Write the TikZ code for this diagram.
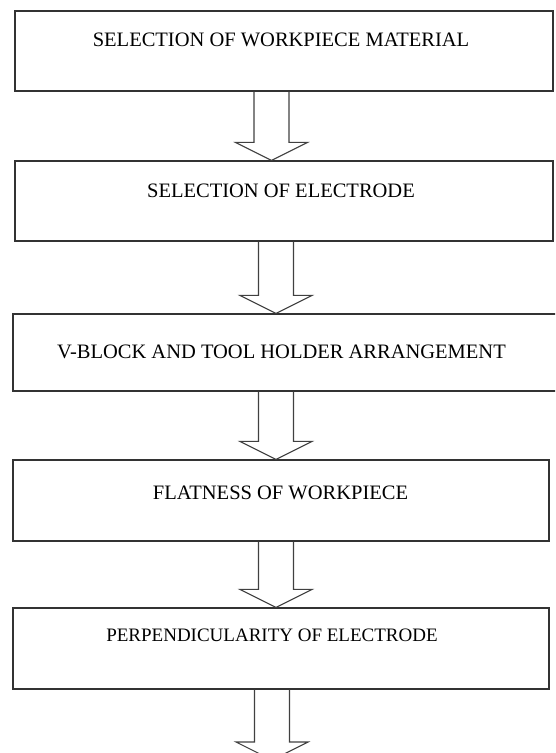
\documentclass[tikz,border=0pt]{standalone}
\usepackage{fontspec}
\setmainfont{Liberation Serif}
\usetikzlibrary{calc}

\begin{document}
\begin{tikzpicture}
  [x=1pt,y=-1pt,
   flowbox/.style={draw=black!80,line width=1.2pt,rectangle,inner sep=0pt},
   steptext/.style={inner sep=0pt,font=\fontsize{20.5}{24}\selectfont},
   blockarrow/.style={draw=black!75,line width=1.1pt,line join=miter}]
  \path[use as bounding box,clip] (0,0) rectangle (555,753);

  \node[flowbox,minimum width=538pt,minimum height=80pt] (b1) at (284,51) {};
  \node[flowbox,minimum width=538pt,minimum height=80pt] (b2) at (284,201) {};
  \node[flowbox,minimum width=547pt,minimum height=77pt] (b3) at (286.5,352.5) {};
  \node[flowbox,minimum width=536pt,minimum height=81pt] (b4) at (281,500.5) {};
  \node[flowbox,minimum width=536pt,minimum height=81pt] (b5) at (281,648.5) {};
  \coordinate (end) at (272,760);

  \node[steptext] (t1) at (281,39.5) {SELECTION OF WORKPIECE MATERIAL};
  \node[steptext] (t2) at (281,190.5) {SELECTION OF ELECTRODE};
  \node[steptext] (t3) at (281.5,352) {V-BLOCK AND TOOL HOLDER ARRANGEMENT};
  \node[steptext] (t4) at (280.5,492.5) {FLATNESS OF WORKPIECE};
  \node[steptext,font=\fontsize{19}{22}\selectfont] (t5) at (272,635) {PERPENDICULARITY OF ELECTRODE};

  \foreach \from/\to/\dx in {b1.south/b2.north/-12.5,b2.south/b3.north/-8,
   b3.south/b4.north/-10.5,b4.south/b5.north/-5,b5.south/end/-9}
    \draw[blockarrow] let \p1=([xshift=\dx pt]\from), \p2=(\to) in
      (\x1-17.5pt,\y1) -- (\x1-17.5pt,\y2+18pt) -- (\x1-36pt,\y2+18pt) -- (\x1,\y2)
      -- (\x1+36pt,\y2+18pt) -- (\x1+17.5pt,\y2+18pt) -- (\x1+17.5pt,\y1);
\end{tikzpicture}
\end{document}
